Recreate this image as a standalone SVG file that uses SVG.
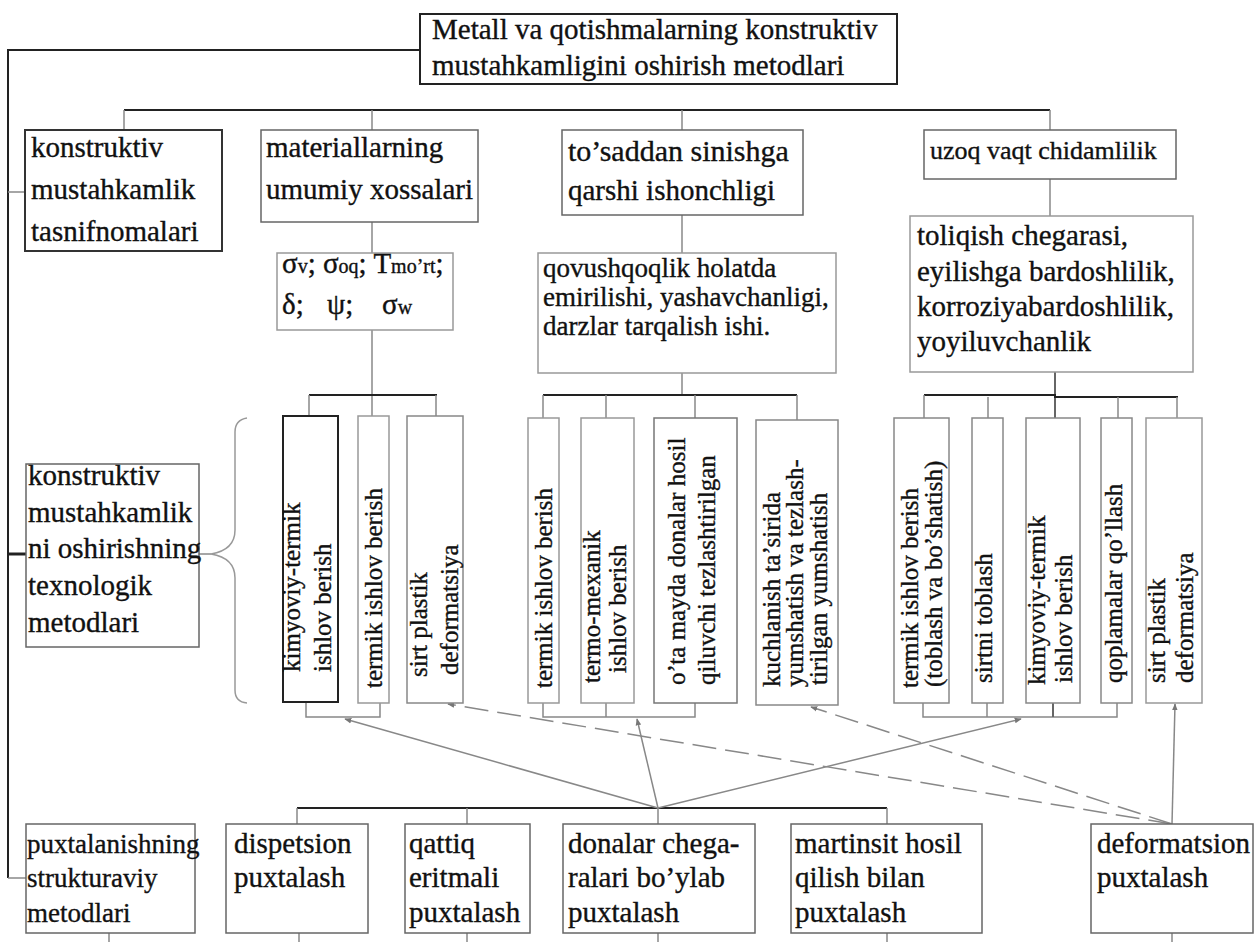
<svg xmlns="http://www.w3.org/2000/svg" width="1255" height="942" viewBox="0 0 1255 942">
<style>
  text { font-family: "Liberation Serif", "Times New Roman", serif; fill: #111; stroke: #111; stroke-width: 0.35; }
  .t29 { font-size: 29px; }
  .t27 { font-size: 27px; }
  .t26 { font-size: 26px; }
  .v { font-size: 25px; }
  .box { fill: #fff; stroke: #666; stroke-width: 1.5; }
  .dark { fill: #fff; stroke: #222; stroke-width: 2; }
  .bus { stroke: #222; stroke-width: 2; fill: none; }
  .drop { stroke: #888; stroke-width: 1.5; fill: none; }
  .arr { stroke: #888; stroke-width: 1.5; fill: none; marker-end: url(#ah); }
  .dash { stroke: #888; stroke-width: 1.5; fill: none; stroke-dasharray: 24 9; marker-end: url(#ah); }
</style>
<defs>
  <marker id="ah" viewBox="0 0 10 10" refX="9" refY="5" markerWidth="7" markerHeight="7" orient="auto" markerUnits="userSpaceOnUse">
    <path d="M0,1 L10,5 L0,9 Z" fill="#777"/>
  </marker>
</defs>
<rect width="1255" height="942" fill="#fff"/>

<g id="connectors">
  <polyline class="bus" points="420,50 8,50 8,878"/>
  <line class="drop" x1="8" y1="192" x2="25" y2="192"/>
  <line class="bus" x1="8" y1="554" x2="26" y2="554" style="stroke-width:3"/>
  <line class="drop" x1="8" y1="878" x2="26" y2="878"/>
  <line class="bus" x1="124" y1="110" x2="1050" y2="110"/>
  <line class="drop" x1="124" y1="110" x2="124" y2="130"/>
  <line class="drop" x1="372" y1="110" x2="372" y2="130"/>
  <line class="drop" x1="682" y1="110" x2="682" y2="130"/>
  <line class="drop" x1="1050" y1="110" x2="1050" y2="130"/>
  <line class="drop" x1="372" y1="222" x2="372" y2="253"/>
  <line class="drop" x1="682" y1="215" x2="682" y2="253"/>
  <line class="drop" x1="1050" y1="179" x2="1050" y2="216"/>
  <line class="drop" x1="372" y1="330" x2="372" y2="416"/>
  <line class="bus" x1="309" y1="395" x2="437" y2="395"/>
  <line class="drop" x1="309" y1="395" x2="309" y2="416"/>
  <line class="drop" x1="436" y1="395" x2="436" y2="416"/>
  <line class="drop" x1="682" y1="373" x2="682" y2="395"/>
  <line class="bus" x1="543" y1="395" x2="797" y2="395"/>
  <line class="drop" x1="543" y1="395" x2="543" y2="418"/>
  <line class="drop" x1="606" y1="395" x2="606" y2="418"/>
  <line class="drop" x1="695" y1="395" x2="695" y2="418"/>
  <line class="drop" x1="797" y1="395" x2="797" y2="420"/>
  <line class="drop" x1="1055" y1="372" x2="1055" y2="418" style="stroke:#666;stroke-width:2"/>
  <polyline class="bus" points="924,395 1055,395 1055,397 1178,397"/>
  <line class="drop" x1="924" y1="395" x2="924" y2="418"/>
  <line class="drop" x1="988" y1="397" x2="988" y2="418"/>
  <line class="drop" x1="1118" y1="397" x2="1118" y2="418"/>
  <line class="drop" x1="1177" y1="397" x2="1177" y2="418"/>
  <polyline class="drop" points="306,702 306,717 380,717 380,702"/>
  <polyline class="drop" points="543,703 543,717 695,717 695,703"/>
  <line class="drop" x1="606" y1="703" x2="606" y2="717"/>
  <polyline class="drop" points="923,703 923,717 1117,717 1117,703"/>
  <line class="drop" x1="987" y1="703" x2="987" y2="717"/>
  <line class="drop" x1="1053" y1="703" x2="1053" y2="717" style="stroke:#666;stroke-width:2"/>
  <path d="M247,418 Q235,420 235,432 L235,530 Q235,550 211,554 Q235,558 235,578 L235,690 Q235,702 247,703" fill="none" stroke="#999" stroke-width="1.5"/>
  <line class="drop" x1="199" y1="554" x2="211" y2="554"/>
  <line class="bus" x1="297" y1="808" x2="887" y2="808"/>
  <line class="drop" x1="297" y1="808" x2="297" y2="824"/>
  <line class="drop" x1="467" y1="808" x2="467" y2="824"/>
  <line class="drop" x1="658" y1="808" x2="658" y2="824"/>
  <line class="drop" x1="887" y1="808" x2="887" y2="824"/>
  <line class="drop" x1="109" y1="933" x2="109" y2="942"/>
  <line class="drop" x1="299" y1="933" x2="299" y2="942"/>
  <line class="drop" x1="467" y1="933" x2="467" y2="942"/>
  <line class="drop" x1="658" y1="933" x2="658" y2="942"/>
  <line class="drop" x1="887" y1="933" x2="887" y2="942"/>
  <line class="drop" x1="1172" y1="933" x2="1172" y2="942"/>
  <line class="arr" x1="658" y1="808" x2="345" y2="719"/>
  <line class="arr" x1="658" y1="808" x2="637" y2="719"/>
  <line class="arr" x1="658" y1="808" x2="1021" y2="719"/>
  <line class="dash" x1="1172" y1="824" x2="448" y2="704"/>
  <line class="dash" x1="1172" y1="824" x2="811" y2="707"/>
  <line class="arr" x1="1172" y1="824" x2="1175" y2="704"/>
</g>

<g id="n-top">
  <rect class="dark" x="420" y="14" width="477" height="70"/>
  <text class="t29" x="432" y="39">Metall va qotishmalarning konstruktiv</text>
  <text class="t29" x="432" y="75">mustahkamligini oshirish metodlari</text>
</g>

<g id="n-tasnif">
  <rect class="dark" x="25" y="130" width="197" height="121" style="stroke:#333"/>
  <text class="t29" x="31" y="157">konstruktiv</text>
  <text class="t29" x="31" y="199">mustahkamlik</text>
  <text class="t29" x="31" y="241">tasnifnomalari</text>
</g>

<g id="n-umumiy">
  <rect class="box" x="261" y="130" width="217" height="92"/>
  <text class="t29" x="266" y="157">materiallarning</text>
  <text class="t29" x="266" y="199">umumiy xossalari</text>
</g>

<g id="n-tosaddan">
  <rect class="box" x="562" y="130" width="241" height="85"/>
  <text class="t29" x="568" y="161" style="font-size:30px">to’saddan sinishga</text>
  <text class="t29" x="568" y="200">qarshi ishonchligi</text>
</g>

<g id="n-uzoq">
  <rect class="box" x="924" y="130" width="252" height="49"/>
  <text class="t26" x="930" y="159">uzoq vaqt chidamlilik</text>
</g>

<g id="n-sigma">
  <rect class="box" x="277" y="253" width="176" height="77" style="stroke:#999"/>
  <text class="t29" x="282" y="273">σ<tspan font-size="20">v</tspan>; σ<tspan font-size="20">oq</tspan>; T<tspan font-size="20">mo’rt</tspan>;</text>
  <text class="t29" y="314"><tspan x="282">δ;</tspan><tspan x="327">ψ;</tspan><tspan x="382">σ</tspan><tspan font-size="20">w</tspan></text>
</g>

<g id="n-qovush">
  <rect class="box" x="538" y="253" width="298" height="120" style="stroke:#999"/>
  <text class="t27" x="543" y="277">qovushqoqlik holatda</text>
  <text class="t27" x="543" y="306">emirilishi, yashavchanligi,</text>
  <text class="t27" x="543" y="335">darzlar tarqalish ishi.</text>
</g>

<g id="n-toliqish">
  <rect class="box" x="910" y="216" width="283" height="156" style="stroke:#999"/>
  <text class="t29" x="917" y="245">toliqish chegarasi,</text>
  <text class="t29" x="917" y="281">eyilishga bardoshlilik,</text>
  <text class="t29" x="917" y="316">korroziyabardoshlilik,</text>
  <text class="t29" x="917" y="351">yoyiluvchanlik</text>
</g>

<g id="n-texnologik">
  <rect class="box" x="26" y="464" width="173" height="183"/>
  <text class="t29" x="28" y="485">konstruktiv</text>
  <text class="t29" x="28" y="522">mustahkamlik</text>
  <text class="t29" x="28" y="558">ni oshirishning</text>
  <text class="t29" x="28" y="595">texnologik</text>
  <text class="t29" x="28" y="632">metodlari</text>
</g>

<g id="v1">
  <rect class="dark" x="283" y="416" width="55" height="286"/>
  <text class="v" transform="translate(300,672) rotate(-90)">kimyoviy-termik</text>
  <text class="v" transform="translate(331,672) rotate(-90)">ishlov berish</text>
</g>
<g id="v2">
  <rect class="box" x="358" y="416" width="31" height="287" style="stroke:#999"/>
  <text class="v" transform="translate(382,688) rotate(-90)">termik ishlov berish</text>
</g>
<g id="v3">
  <rect class="box" x="407" y="416" width="56" height="287" style="stroke:#888"/>
  <text class="v" transform="translate(427,677) rotate(-90)">sirt plastik</text>
  <text class="v" transform="translate(458,675) rotate(-90)">deformatsiya</text>
</g>

<g id="v4">
  <rect class="box" x="528" y="418" width="31" height="285" style="stroke:#999"/>
  <text class="v" transform="translate(552,688) rotate(-90)">termik ishlov berish</text>
</g>
<g id="v5">
  <rect class="box" x="581" y="418" width="53" height="285" style="stroke:#999"/>
  <text class="v" transform="translate(600,683) rotate(-90)">termo-mexanik</text>
  <text class="v" transform="translate(626,673) rotate(-90)">ishlov berish</text>
</g>
<g id="v6">
  <rect class="box" x="654" y="418" width="83" height="285" style="stroke:#777"/>
  <text class="v" transform="translate(685,685) rotate(-90)">o’ta mayda donalar hosil</text>
  <text class="v" transform="translate(715,685) rotate(-90)">qiluvchi tezlashtirilgan</text>
</g>
<g id="v7">
  <rect class="box" x="756" y="420" width="82" height="285" style="stroke:#888"/>
  <text class="v" transform="translate(780,687) rotate(-90)">kuchlanish ta’sirida</text>
  <text class="v" transform="translate(803,687) rotate(-90)">yumshatish va tezlash-</text>
  <text class="v" transform="translate(827,685) rotate(-90)">tirilgan yumshatish</text>
</g>

<g id="v8">
  <rect class="box" x="894" y="418" width="55" height="285" style="stroke:#888"/>
  <text class="v" transform="translate(918,688) rotate(-90)">termik ishlov berish</text>
  <text class="v" transform="translate(942,687) rotate(-90)">(toblash va bo’shatish)</text>
</g>
<g id="v9">
  <rect class="box" x="972" y="418" width="31" height="285" style="stroke:#888"/>
  <text class="v" transform="translate(992,683) rotate(-90)">sirtni toblash</text>
</g>
<g id="v10">
  <rect class="box" x="1026" y="418" width="54" height="285" style="stroke:#888"/>
  <text class="v" transform="translate(1045,685) rotate(-90)">kimyoviy-termik</text>
  <text class="v" transform="translate(1072,683) rotate(-90)">ishlov berish</text>
</g>
<g id="v11">
  <rect class="box" x="1101" y="418" width="31" height="285" style="stroke:#888"/>
  <text class="v" transform="translate(1122,683) rotate(-90)">qoplamalar qo’llash</text>
</g>
<g id="v12">
  <rect class="box" x="1146" y="418" width="56" height="285" style="stroke:#999"/>
  <text class="v" transform="translate(1165,683) rotate(-90)">sirt plastik</text>
  <text class="v" transform="translate(1193,683) rotate(-90)">deformatsiya</text>
</g>

<g id="b-strukt">
  <rect class="box" x="26" y="824" width="169" height="109"/>
  <text class="t27" x="27" y="853">puxtalanishning</text>
  <text class="t27" x="27" y="887">strukturaviy</text>
  <text class="t27" x="27" y="922">metodlari</text>
</g>
<g id="b-disp">
  <rect class="box" x="226" y="824" width="142" height="109"/>
  <text class="t29" x="234" y="853">dispetsion</text>
  <text class="t29" x="234" y="887">puxtalash</text>
</g>
<g id="b-qattiq">
  <rect class="box" x="405" y="824" width="125" height="109"/>
  <text class="t29" x="409" y="853">qattiq</text>
  <text class="t29" x="409" y="887">eritmali</text>
  <text class="t29" x="409" y="922">puxtalash</text>
</g>
<g id="b-donalar">
  <rect class="box" x="563" y="824" width="192" height="109"/>
  <text class="t29" x="568" y="853">donalar chega-</text>
  <text class="t29" x="568" y="887">ralari bo’ylab</text>
  <text class="t29" x="568" y="922">puxtalash</text>
</g>
<g id="b-martinsit">
  <rect class="box" x="791" y="824" width="191" height="109"/>
  <text class="t29" x="795" y="853">martinsit hosil</text>
  <text class="t29" x="795" y="887">qilish bilan</text>
  <text class="t29" x="795" y="922">puxtalash</text>
</g>
<g id="b-deform">
  <rect class="box" x="1091" y="824" width="162" height="109"/>
  <text class="t29" x="1097" y="853">deformatsion</text>
  <text class="t29" x="1097" y="887">puxtalash</text>
</g>
</svg>
